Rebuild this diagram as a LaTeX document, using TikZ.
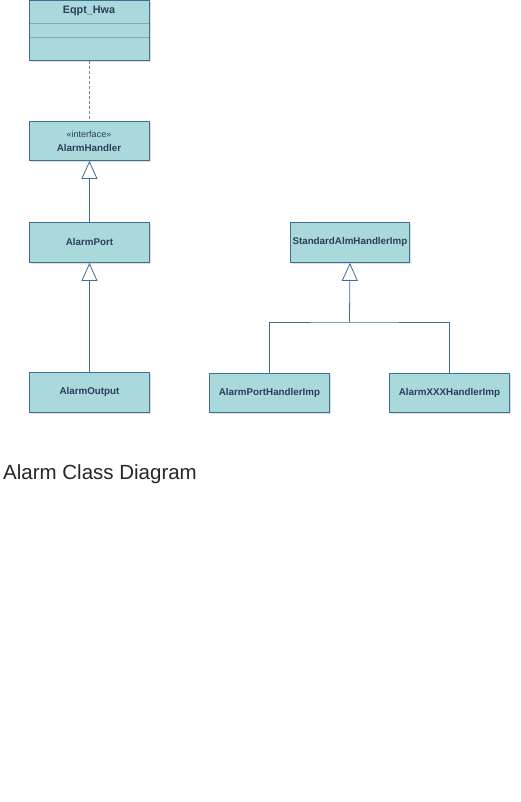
\documentclass[tikz,border=0pt]{standalone}
\usepackage{fontspec}
\setmainfont{Liberation Sans}
\usetikzlibrary{shadows,arrows.meta}
\definecolor{boxfill}{HTML}{A9D9DB}
\definecolor{boxdraw}{HTML}{3E6D96}
\definecolor{boxtext}{HTML}{2E3D5A}
\definecolor{sepline}{HTML}{8FA3AE}
\tikzset{
  cls/.style={draw=boxdraw, fill=boxfill, line width=0.9pt, minimum width=120pt, minimum height=40pt,
    inner sep=0pt, text=boxtext, font=\fontsize{9.8}{11}\selectfont\bfseries,
    drop shadow={opacity=0.25, shadow xshift=2pt, shadow yshift=-2pt}},
  conn/.style={draw=boxdraw, line width=0.8pt},
  gen/.style={conn, -{Triangle[open, width=16pt, length=18pt, fill=white]}},
}
\begin{document}
\begin{tikzpicture}[x=1pt, y=-1pt]
\useasboundingbox (0,0) rectangle (521,802);
% boxes
\node[cls, minimum height=60pt, anchor=north west] (eq) at (29,0) {};
\node[text=boxtext, font=\fontsize{10.8}{12}\selectfont\bfseries] (eqt) at (89,11) {Eqpt\_Hwa};
\draw[sepline, line width=0.6pt] (29.5,23) -- (148.5,23);
\draw[sepline, line width=0.6pt] (29.5,37) -- (148.5,37);
\node[cls, minimum height=39pt, anchor=north west] (ah) at (29,121) {};
\node[text=boxtext, font=\fontsize{9}{10}\selectfont] (ahs) at (89,134) {«interface»};
\node[text=boxtext, font=\fontsize{9.8}{11}\selectfont\bfseries] (aht) at (89,148) {AlarmHandler};
\node[cls, anchor=north west] (ap) at (29,222) {AlarmPort};
\node[cls, anchor=north west] (ao) at (29,372) {AlarmOutput};
\node[cls, minimum width=119pt, anchor=north west] (sh) at (290,222) {StandardAlmHandlerImp};
\node[cls, minimum height=39pt, anchor=north west] (aph) at (209,373) {AlarmPortHandlerImp};
\node[cls, minimum height=39pt, anchor=north west] (axh) at (389,373) {AlarmXXXHandlerImp};
% connectors
\draw[conn, dashed, dash pattern=on 3pt off 2pt, line width=0.6pt, draw=gray] (eq.south) -- (ah.north);
\draw[gen] (ap.north) -- (ah.south);
\draw[gen] (ao.north) -- (ap.south);
\coordinate (jn) at (349.5,322);
\draw[gen] (jn) -- (sh.south);
\draw[conn] (aph.north) |- (jn) -| (axh.north);
% title
\node[anchor=west, inner sep=0pt, text=black!85, font=\fontsize{20.5}{22}\selectfont] (tit) at (3,474) {Alarm Class Diagram};
\end{tikzpicture}
\end{document}
